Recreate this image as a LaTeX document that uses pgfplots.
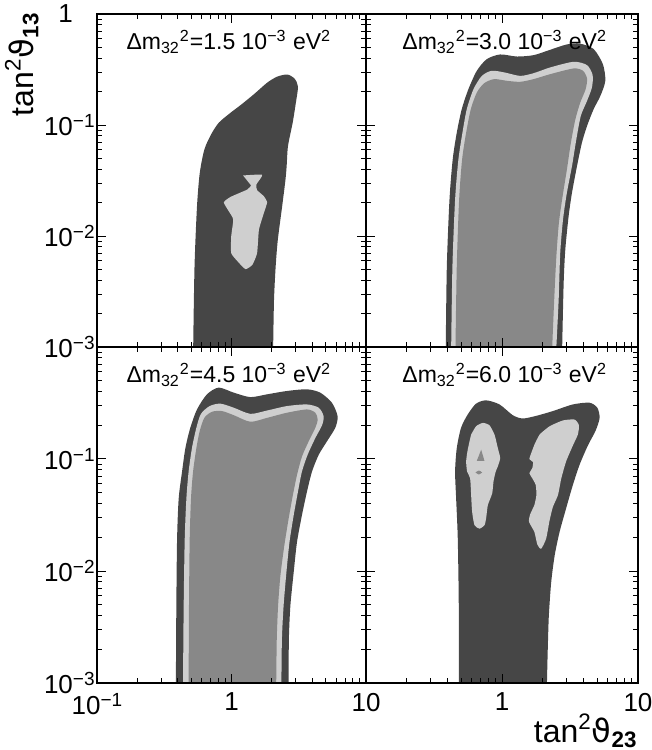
\documentclass[border=0pt]{standalone}
\usepackage{graphicx}
\usepackage{pgfplots}
\pgfplotsset{compat=1.18}
\usepackage{fontspec}
\setmainfont{Liberation Sans}
\newfontfamily\dvs{DejaVu Sans}

\definecolor{cldark}{RGB}{70,70,70}
\definecolor{cllight}{RGB}{207,207,207}
\definecolor{clmid}{RGB}{136,136,136}

% exponents and powers of ten in the text font
\newcommand\expo[1]{\raisebox{4.3pt}{\fontsize{9.5}{9.5}\selectfont #1}}
\newcommand\dec[1]{10\expo{#1}}
% panel titles
\newcommand\ttl[1]{\fontsize{11.5}{11.5}\selectfont
  Δm\textsubscript{32}\textsuperscript{2}=#1 10\textsuperscript{−3} eV\textsuperscript{2}}
% axis titles
\newcommand\tanlab[1]{\fontsize{16}{16}\selectfont tan\textsuperscript{2}{\dvs ϑ}\textsubscript{\bfseries #1}}

\pgfplotsset{
  every axis/.append style={
    scale only axis,
    xmin=0.1, xmax=10, ymin=0.001, ymax=1,
    xtick={0.1,1,10}, ytick={0.001,0.01,0.1,1},
    minor xtick={0.2,0.3,0.4,0.5,0.6,0.7,0.8,0.9,2,3,4,5,6,7,8,9},
    minor ytick={0.002,0.003,0.004,0.005,0.006,0.007,0.008,0.009,
                 0.02,0.03,0.04,0.05,0.06,0.07,0.08,0.09,
                 0.2,0.3,0.4,0.5,0.6,0.7,0.8,0.9},
    tick align=inside, major tick length=4.5pt, minor tick length=2.5pt,
    tick style={black, line width=0.5pt},
    axis line style={line width=0.6pt},
    axis on top,
    ticklabel style={font=\fontsize{13}{13}\selectfont},
    yticklabel style={inner xsep=1pt},
    xticklabel style={yshift=-1.5pt},
    anchor=south west,
  },
}

\begin{document}
\begin{tikzpicture}
\useasboundingbox (0,0) rectangle (326pt,375pt);

% ---------- top left: 1.5e-3 ----------
\begin{loglogaxis}[at={(48.5pt,201.5pt)}, width=134.5pt, height=166.5pt,
  xticklabels={}, yticklabels={\dec{−3},\dec{−2},\dec{−1},{1\hphantom{\expo{−1}}}}]
\addplot[draw=none, fill=cldark, smooth, tension=0.45] coordinates {
 (0.519,0.001) (0.531,0.00532) (0.554,0.0185) (0.581,0.0371) (0.629,0.0603)
 (0.706,0.0824) (0.805,0.105) (0.984,0.129) (1.167,0.151) (1.466,0.189)
 (1.845,0.241) (2.19,0.273) (2.60,0.285) (2.94,0.262) (3.12,0.222)
 (3.01,0.159) (2.85,0.105) (2.63,0.0646) (2.57,0.0426) (2.52,0.0323)
 (2.38,0.0185) (2.21,0.00927) (2.13,0.00532) (2.07,0.00266) (2.04,0.001)} -- cycle;
\addplot[draw=none, fill=cllight, smooth, tension=0.3] coordinates {
 (1.22,0.0351) (1.69,0.0356) (1.53,0.0291) (1.55,0.0259) (1.74,0.0228)
 (1.84,0.0201) (1.74,0.0161) (1.60,0.0114) (1.55,0.00702) (1.43,0.00551)
 (1.27,0.00503) (1.11,0.00591) (0.995,0.00702) (0.995,0.00993) (1.03,0.0141)
 (0.955,0.0167) (0.877,0.0201) (0.984,0.0225) (1.31,0.0262) (1.40,0.0285)} -- cycle;
\node[anchor=base] at (rel axis cs:0.49,0.892) {\ttl{1.5}};
\end{loglogaxis}

% ---------- top right: 3.0e-3 ----------
\begin{loglogaxis}[at={(183pt,201.5pt)}, width=136pt, height=166.5pt,
  xticklabels={}, yticklabels={}]
\addplot[draw=none, fill=cldark, smooth, tension=0.45] coordinates {
 (0.386,0.001) (0.393,0.00532) (0.411,0.0213) (0.434,0.0489) (0.465,0.0853)
 (0.506,0.139) (0.566,0.210) (0.653,0.308) (0.773,0.392) (0.970,0.432)
 (1.29,0.414) (1.71,0.426) (2.26,0.476) (3.00,0.532) (3.76,0.540)
 (4.72,0.483) (5.52,0.353) (5.75,0.250) (5.29,0.183) (4.72,0.139)
 (4.22,0.098) (3.87,0.0692) (3.56,0.0426) (3.27,0.0245) (3.09,0.0151)
 (2.92,0.00753) (2.84,0.00376) (2.77,0.001)} -- cycle;
\addplot[draw=none, fill=cllight, smooth, tension=0.45] coordinates {
 (0.423,0.001) (0.432,0.00532) (0.452,0.0213) (0.478,0.0489) (0.512,0.0853)
 (0.551,0.139) (0.617,0.210) (0.711,0.277) (0.842,0.308) (1.05,0.297)
 (1.36,0.277) (1.71,0.293) (2.26,0.330) (3.36,0.371) (4.22,0.346)
 (4.64,0.281) (4.58,0.217) (4.22,0.165) (3.80,0.121) (3.52,0.0742)
 (3.27,0.0426) (3.00,0.0245) (2.81,0.0141) (2.68,0.00702) (2.61,0.00266)
 (2.51,0.001)} -- cycle;
\addplot[draw=none, fill=clmid, smooth, tension=0.45] coordinates {
 (0.455,0.001) (0.465,0.00532) (0.484,0.0213) (0.509,0.0489) (0.545,0.0853)
 (0.590,0.139) (0.653,0.196) (0.740,0.238) (0.875,0.259) (1.09,0.250)
 (1.36,0.245) (1.71,0.259) (2.26,0.287) (3.36,0.323) (3.94,0.308)
 (4.22,0.262) (4.12,0.210) (3.76,0.159) (3.46,0.112) (3.21,0.0692)
 (3.00,0.0397) (2.79,0.0228) (2.62,0.0131) (2.51,0.00655) (2.42,0.00266)
 (2.34,0.001)} -- cycle;
\node[anchor=base] at (rel axis cs:0.51,0.892) {\ttl{3.0}};
\end{loglogaxis}

% ---------- bottom left: 4.5e-3 ----------
\begin{loglogaxis}[at={(48.5pt,33.5pt)}, width=134.5pt, height=168pt,
  yticklabels={\dec{−3},\dec{−2},\dec{−1},{}},
  xticklabels={\dec{−1},1,10}]
\addplot[draw=none, fill=cldark, smooth, tension=0.45] coordinates {
 (0.386,0.001) (0.389,0.00490) (0.394,0.0194) (0.405,0.0445) (0.429,0.0773)
 (0.454,0.125) (0.494,0.190) (0.554,0.277) (0.657,0.378) (0.803,0.434)
 (1.04,0.391) (1.38,0.357) (1.84,0.378) (2.59,0.405) (3.64,0.419)
 (4.57,0.391) (5.58,0.318) (6.15,0.241) (5.91,0.190) (5.13,0.144)
 (4.45,0.109) (3.97,0.0773) (3.64,0.0511) (3.34,0.0315) (3.07,0.0182)
 (2.90,0.00975) (2.74,0.00490) (2.67,0.00245) (2.66,0.001)} -- cycle;
\addplot[draw=none, fill=cllight, smooth, tension=0.45] coordinates {
 (0.436,0.001) (0.441,0.00490) (0.449,0.0194) (0.462,0.0445) (0.480,0.0773)
 (0.508,0.125) (0.548,0.190) (0.593,0.253) (0.689,0.297) (0.826,0.312)
 (1.04,0.287) (1.38,0.253) (1.84,0.271) (2.59,0.297) (3.64,0.307)
 (4.45,0.287) (4.84,0.241) (4.71,0.200) (4.20,0.154) (3.68,0.109)
 (3.34,0.0773) (3.12,0.0511) (2.90,0.0315) (2.70,0.0182) (2.56,0.00975)
 (2.44,0.00490) (2.37,0.00245) (2.35,0.001)} -- cycle;
\addplot[draw=none, fill=clmid, smooth, tension=0.45] coordinates {
 (0.480,0.001) (0.483,0.00490) (0.489,0.0194) (0.500,0.0445) (0.518,0.0773)
 (0.548,0.125) (0.580,0.177) (0.628,0.233) (0.716,0.264) (0.849,0.268)
 (1.04,0.246) (1.38,0.215) (1.84,0.233) (2.59,0.259) (3.64,0.277)
 (4.20,0.259) (4.37,0.225) (4.20,0.190) (3.75,0.144) (3.34,0.105)
 (3.07,0.0722) (2.86,0.0477) (2.66,0.0294) (2.47,0.0169) (2.31,0.00910)
 (2.22,0.00490) (2.17,0.00245) (2.15,0.001)} -- cycle;
\node[anchor=base] at (rel axis cs:0.49,0.893) {\ttl{4.5}};
\end{loglogaxis}

% ---------- bottom right: 6.0e-3 ----------
\begin{loglogaxis}[at={(183pt,33.5pt)}, width=136pt, height=168pt,
  yticklabels={}, xticklabels={{},1,10}]
\addplot[draw=none, fill=cldark, smooth, tension=0.45] coordinates {
 (0.481,0.001) (0.481,0.00490) (0.473,0.0194) (0.460,0.0445) (0.452,0.0773)
 (0.465,0.125) (0.500,0.190) (0.560,0.250) (0.645,0.312) (0.764,0.334)
 (0.959,0.307) (1.20,0.246) (1.42,0.230) (1.79,0.243) (2.37,0.268)
 (3.32,0.307) (4.40,0.318) (5.02,0.287) (5.22,0.233) (4.88,0.179)
 (4.28,0.132) (3.72,0.0888) (3.32,0.0586) (2.96,0.0362) (2.65,0.0223)
 (2.44,0.0138) (2.30,0.00793) (2.21,0.00398) (2.17,0.00200) (2.14,0.001)} -- cycle;
\addplot[draw=none, fill=cllight, smooth, tension=0.35] coordinates {
 (0.593,0.165) (0.645,0.196) (0.723,0.210) (0.809,0.200) (0.881,0.165)
 (0.932,0.125) (0.970,0.102) (0.937,0.0875) (0.896,0.0762) (0.866,0.0629)
 (0.847,0.0493) (0.787,0.0388) (0.764,0.0294) (0.743,0.0256) (0.683,0.0239)
 (0.628,0.0256) (0.603,0.0338) (0.593,0.0477) (0.583,0.0673) (0.554,0.0773)
 (0.545,0.0951) (0.557,0.117) (0.577,0.144)} -- cycle;
\addplot[draw=none, fill=cllight, smooth, tension=0.35] coordinates {
 (1.73,0.134) (1.89,0.165) (2.24,0.196) (2.81,0.221) (3.42,0.225)
 (3.68,0.200) (3.61,0.165) (3.32,0.132) (2.96,0.0951) (2.73,0.0673)
 (2.58,0.0477) (2.37,0.0375) (2.24,0.0284) (2.11,0.0194) (1.94,0.0158)
 (1.82,0.0172) (1.73,0.0223) (1.58,0.0275) (1.61,0.0320) (1.73,0.0388)
 (1.79,0.0477) (1.77,0.0586) (1.67,0.0673) (1.59,0.0747) (1.67,0.0828)
 (1.69,0.0938) (1.59,0.100) (1.65,0.115)} -- cycle;
\addplot[draw=none, fill=clmid] coordinates {
 (0.703,0.121) (0.743,0.0964) (0.653,0.0964)} -- cycle;
\addplot[draw=none, fill=clmid, smooth, tension=0.45] coordinates {
 (0.638,0.0757) (0.675,0.0789) (0.714,0.0757) (0.675,0.0727)} -- cycle;
\node[anchor=base] at (rel axis cs:0.51,0.893) {\ttl{6.0}};
\end{loglogaxis}

% axis titles
\node[anchor=north east, inner sep=0pt] at (19.5pt,369pt) {\rotatebox{90}{\tanlab{13}}};
\node[anchor=base east, inner sep=0pt] at (319pt,4pt) {\tanlab{23}};
\end{tikzpicture}
\end{document}
